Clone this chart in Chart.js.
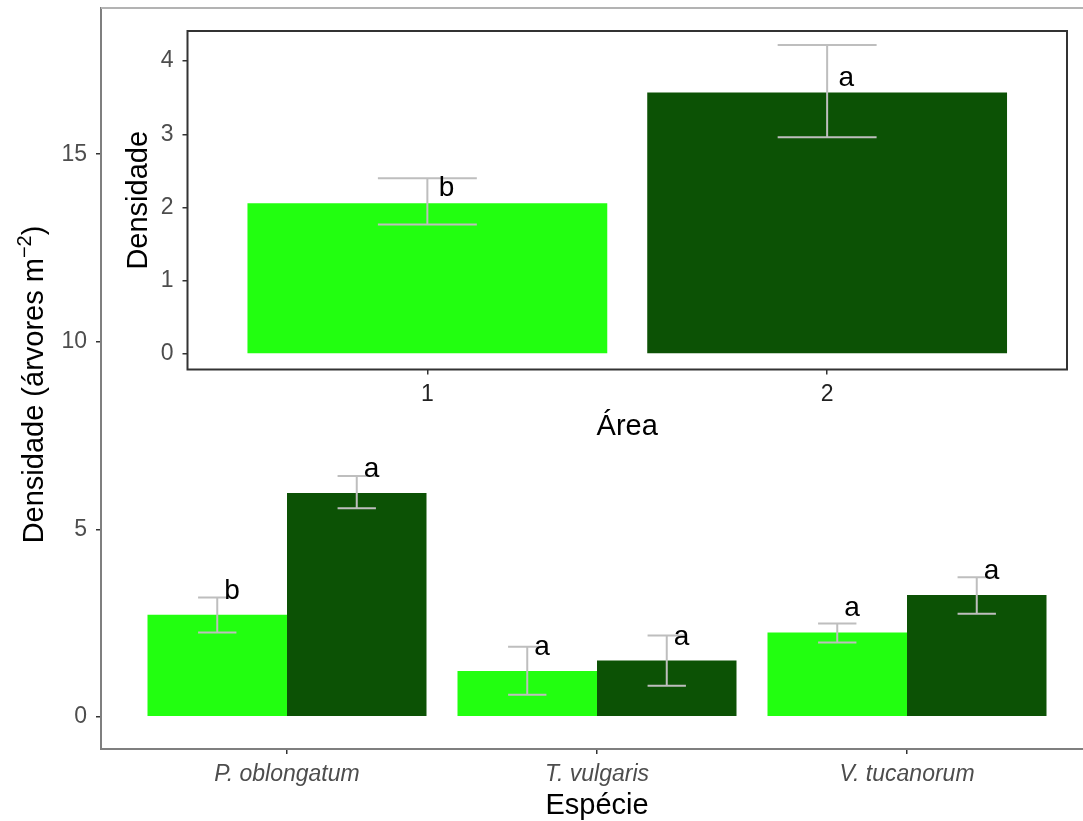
<!DOCTYPE html>
<html>
<head>
<meta charset="utf-8">
<script src="https://cdn.jsdelivr.net/npm/chart.js@4/dist/chart.umd.min.js"></script>
<style>
html,body{margin:0;padding:0;background:#ffffff;overflow:hidden;width:1083px;height:821px;}
#wrap{position:relative;width:1083px;height:821px;overflow:hidden;background:#ffffff;}
canvas{position:absolute;left:0;top:0;}
</style>
</head>
<body>
<div id="wrap">
<canvas id="main" width="1100" height="821"></canvas>
<canvas id="inset" width="1083" height="821"></canvas>
</div>
<script>
// ---------- data: main chart (species x area) ----------
const speciesLabels = ['P. oblongatum', 'T. vulgaris', 'V. tucanorum'];
const area1Means  = [2.72, 1.22, 2.25];
const area1Upper  = [3.18, 1.87, 2.49];
const area1Lower  = [2.25, 0.59, 1.98];
const area1Letters = ['b', 'a', 'a'];
const area2Means  = [5.97, 1.50, 3.25];
const area2Upper  = [6.42, 2.17, 3.72];
const area2Lower  = [5.56, 0.83, 2.75];
const area2Letters = ['a', 'a', 'a'];
const mainYTicks = [0, 5, 10, 15];

// ---------- data: inset chart (area) ----------
const insetAreas   = ['1', '2'];
const insetMeans   = [2.06, 3.57];
const insetUpper   = [2.40, 4.22];
const insetLower   = [1.77, 2.96];
const insetLetters = ['b', 'a'];
const insetYTicks  = [0, 1, 2, 3, 4];

// ---------- style ----------
const FONT = "'Liberation Sans', Arial, Helvetica, sans-serif";
const LIGHT = '#22FF10';
const DARK = '#0C5205';
const ERR = '#BEBEBE';
const TICK_COL = '#4D4D4D';
const TITLE_SIZE = 29;
const TICK_SIZE = 23;
const LETTER_SIZE = 28;

function zeroPad(s) { s.paddingTop = 0; s.paddingBottom = 0; s.paddingLeft = 0; s.paddingRight = 0; }

function errorAndLetters(sets, capFrac, letterDxUnits, letterDyPx) {
  return {
    id: 'errorAndLetters',
    afterDatasetsDraw(chart) {
      const ctx = chart.ctx;
      const ys = chart.scales.y, xs = chart.scales.x;
      const ppu = Math.abs(xs.getPixelForValue(1) - xs.getPixelForValue(0));
      ctx.save();
      ctx.strokeStyle = ERR;
      ctx.lineWidth = 2;
      sets.forEach(set => {
        const meta = chart.getDatasetMeta(set.dataset);
        meta.data.forEach((bar, j) => {
          const p = bar.getProps(['x', 'width'], true);
          const half = p.width * capFrac / 2;
          const yU = ys.getPixelForValue(set.upper[j]);
          const yL = ys.getPixelForValue(set.lower[j]);
          ctx.beginPath();
          ctx.moveTo(p.x, yU); ctx.lineTo(p.x, yL);
          ctx.moveTo(p.x - half, yU); ctx.lineTo(p.x + half, yU);
          ctx.moveTo(p.x - half, yL); ctx.lineTo(p.x + half, yL);
          ctx.stroke();
        });
      });
      ctx.fillStyle = '#000000';
      ctx.font = LETTER_SIZE + 'px ' + FONT;
      ctx.textAlign = 'center';
      ctx.textBaseline = 'alphabetic';
      sets.forEach(set => {
        const meta = chart.getDatasetMeta(set.dataset);
        meta.data.forEach((bar, j) => {
          const p = bar.getProps(['x', 'y'], true);
          ctx.fillText(set.letters[j], p.x + letterDxUnits * ppu, p.y - letterDyPx);
        });
      });
      ctx.restore();
    }
  };
}

// ---------- main chart ----------
const xPos = speciesLabels.map((_, i) => i + 1);
new Chart(document.getElementById('main'), {
  type: 'bar',
  data: {
    datasets: [
      { label: 'Área 1', data: xPos.map((x, i) => ({ x: x, y: area1Means[i] })),
        backgroundColor: LIGHT, borderWidth: 0, categoryPercentage: 0.9, barPercentage: 1.0 },
      { label: 'Área 2', data: xPos.map((x, i) => ({ x: x, y: area2Means[i] })),
        backgroundColor: DARK, borderWidth: 0, categoryPercentage: 0.9, barPercentage: 1.0 }
    ]
  },
  options: {
    responsive: false, animation: false, devicePixelRatio: 1,
    layout: { padding: { top: 8, right: 7, left: 0, bottom: 0 } },
    plugins: { legend: { display: false }, tooltip: { enabled: false } },
    scales: {
      x: {
        type: 'linear', min: 0.4, max: 3.6, offset: false,
        afterBuildTicks: s => { s.ticks = xPos.map(v => ({ value: v })); },
        afterFit: s => { s.height = 72; zeroPad(s); },
        ticks: { callback: v => speciesLabels[Math.round(v) - 1], autoSkip: false, maxRotation: 0,
                 font: { family: FONT, size: TICK_SIZE, style: 'italic' }, color: TICK_COL, padding: 7 },
        grid: { drawOnChartArea: false, drawTicks: true, tickLength: 5, color: '#333333', lineWidth: 1.5, offset: false },
        border: { display: true, color: '#7F7F7F', width: 2 }
      },
      y: {
        type: 'linear', min: -0.86, max: 18.9,
        afterBuildTicks: s => { s.ticks = mainYTicks.map(v => ({ value: v })); },
        afterFit: s => { s.width = 101; zeroPad(s); },
        ticks: { callback: v => String(v), font: { family: FONT, size: TICK_SIZE }, color: TICK_COL, padding: 9 },
        grid: { drawOnChartArea: false, drawTicks: true, tickLength: 5, color: '#333333', lineWidth: 1.5 },
        border: { display: true, color: '#7F7F7F', width: 2 }
      }
    }
  },
  plugins: [
    errorAndLetters([
      { dataset: 0, upper: area1Upper, lower: area1Lower, letters: area1Letters },
      { dataset: 1, upper: area2Upper, lower: area2Lower, letters: area2Letters }
    ], 0.275, 0.048, 16),
    {
      id: 'mainDecor',
      afterDraw(chart) {
        const ctx = chart.ctx, a = chart.chartArea;
        ctx.save();
        ctx.strokeStyle = '#B3B3B3'; ctx.lineWidth = 2;
        ctx.beginPath(); ctx.moveTo(a.left, a.top); ctx.lineTo(a.right, a.top);
        ctx.moveTo(a.right, a.top); ctx.lineTo(a.right, a.bottom); ctx.stroke();
        // x title
        ctx.fillStyle = '#000000';
        ctx.font = TITLE_SIZE + 'px ' + FONT;
        ctx.textAlign = 'center'; ctx.textBaseline = 'alphabetic';
        ctx.fillText('Espécie', (a.left + a.right) / 2, 814);
        // y title with superscript
        const t1 = 'Densidade (árvores m', sup = '\u22122', t3 = ')';
        const supSize = Math.round(TITLE_SIZE * 0.7);
        ctx.font = TITLE_SIZE + 'px ' + FONT; const w1 = ctx.measureText(t1).width, w3 = ctx.measureText(t3).width;
        ctx.font = supSize + 'px ' + FONT; const w2 = ctx.measureText(sup).width;
        const total = w1 + w2 + w3;
        ctx.translate(43, (a.top + a.bottom) / 2 + 6);
        ctx.rotate(-Math.PI / 2);
        ctx.textAlign = 'left';
        let x0 = -total / 2;
        ctx.font = TITLE_SIZE + 'px ' + FONT; ctx.fillText(t1, x0, 0);
        ctx.font = supSize + 'px ' + FONT; ctx.fillText(sup, x0 + w1, -TITLE_SIZE * 0.42);
        ctx.font = TITLE_SIZE + 'px ' + FONT; ctx.fillText(t3, x0 + w1 + w2, 0);
        ctx.restore();
      }
    }
  ]
});

// ---------- inset chart ----------
const insetPos = insetAreas.map((_, i) => i + 1);
new Chart(document.getElementById('inset'), {
  type: 'bar',
  data: {
    datasets: [
      { label: 'Densidade', data: insetPos.map((x, i) => ({ x: x, y: insetMeans[i] })),
        backgroundColor: [LIGHT, DARK], borderWidth: 0, categoryPercentage: 0.9, barPercentage: 1.0 }
    ]
  },
  options: {
    responsive: false, animation: false, devicePixelRatio: 1,
    layout: { padding: { top: 31, right: 16, left: 0, bottom: 0 } },
    plugins: { legend: { display: false }, tooltip: { enabled: false } },
    scales: {
      x: {
        type: 'linear', min: 0.4, max: 2.6, offset: false,
        afterBuildTicks: s => { s.ticks = insetPos.map(v => ({ value: v })); },
        afterFit: s => { s.height = 451.5; zeroPad(s); },
        ticks: { callback: v => insetAreas[Math.round(v) - 1], autoSkip: false, maxRotation: 0,
                 font: { family: FONT, size: TICK_SIZE }, color: '#222222', padding: 6 },
        grid: { drawOnChartArea: false, drawTicks: true, tickLength: 5, color: '#333333', lineWidth: 1.5, offset: false },
        border: { display: false }
      },
      y: {
        type: 'linear', min: -0.211, max: 4.41,
        afterBuildTicks: s => { s.ticks = insetYTicks.map(v => ({ value: v })); },
        afterFit: s => { s.width = 187.5; zeroPad(s); },
        ticks: { callback: v => String(v), font: { family: FONT, size: TICK_SIZE }, color: TICK_COL, padding: 9 },
        grid: { drawOnChartArea: false, drawTicks: true, tickLength: 5, color: '#333333', lineWidth: 1.5 },
        border: { display: false }
      }
    }
  },
  plugins: [
    {
      id: 'insetBg',
      beforeDraw(chart) {
        const ctx = chart.ctx, a = chart.chartArea;
        ctx.save(); ctx.fillStyle = '#ffffff';
        ctx.fillRect(a.left, a.top, a.right - a.left, a.bottom - a.top);
        ctx.restore();
      }
    },
    errorAndLetters([
      { dataset: 0, upper: insetUpper, lower: insetLower, letters: insetLetters }
    ], 0.275, 0.048, 7),
    {
      id: 'insetDecor',
      afterDraw(chart) {
        const ctx = chart.ctx, a = chart.chartArea;
        ctx.save();
        ctx.strokeStyle = '#333333'; ctx.lineWidth = 2;
        ctx.strokeRect(a.left, a.top, a.right - a.left, a.bottom - a.top);
        ctx.fillStyle = '#000000';
        ctx.font = TITLE_SIZE + 'px ' + FONT;
        ctx.textAlign = 'center'; ctx.textBaseline = 'alphabetic';
        ctx.fillText('Área', (a.left + a.right) / 2, 435);
        ctx.translate(147, (a.top + a.bottom) / 2);
        ctx.rotate(-Math.PI / 2);
        ctx.fillText('Densidade', 0, 0);
        ctx.restore();
      }
    }
  ]
});
</script>
</body>
</html>
